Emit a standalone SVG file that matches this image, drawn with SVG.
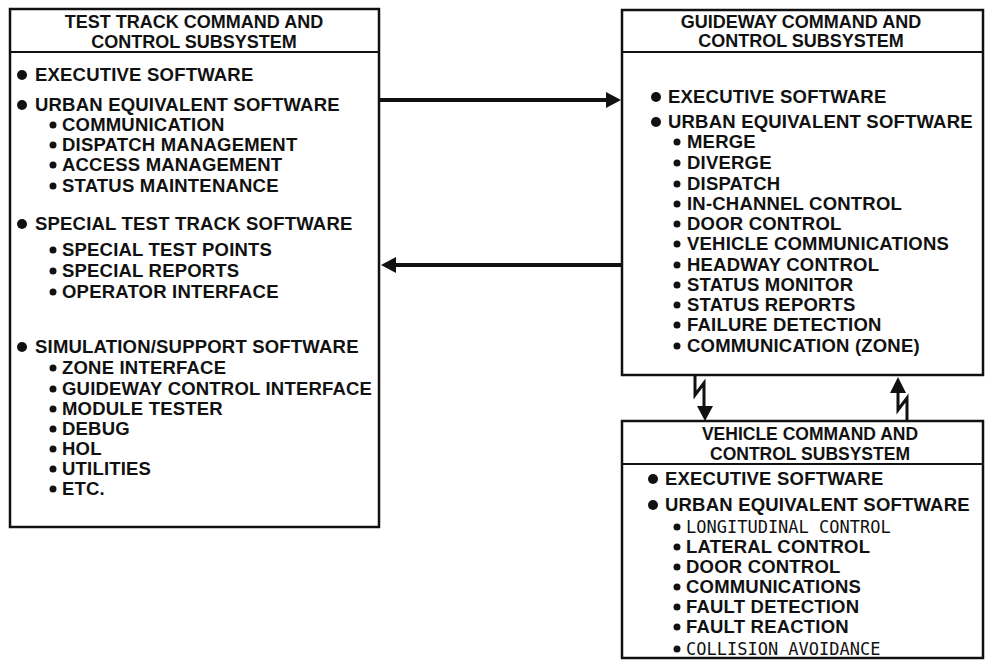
<svg xmlns="http://www.w3.org/2000/svg" width="991" height="660" viewBox="0 0 991 660">
<defs>
<style>
.box{fill:none;stroke:#111;stroke-width:2.5}
.div{stroke:#111;stroke-width:2}
.h{font-family:"Liberation Sans",Arial,sans-serif;font-weight:bold;font-size:18px;fill:#111;text-anchor:middle}
.hv{font-size:17.5px}
.t{font-family:"Liberation Sans",Arial,sans-serif;font-weight:bold;font-size:18.5px;letter-spacing:0.2px;fill:#111}
.m{font-family:"DejaVu Sans Mono","Liberation Mono",monospace;font-size:17px;fill:#111}
.b1{fill:#111}
.b2{fill:#111}
.ln{fill:none;stroke:#111;stroke-width:4}
.zz{fill:none;stroke:#111;stroke-width:3;stroke-linejoin:miter}
.ah{fill:#111}
</style>
</defs>
<rect width="991" height="660" fill="#fff"/>

<g id="test-track">
<rect class="box" x="10" y="9" width="369" height="518"/>
<line class="div" x1="10" y1="52" x2="379" y2="52"/>
<text class="h" x="194" y="28">TEST TRACK COMMAND AND</text>
<text class="h" x="194" y="48">CONTROL SUBSYSTEM</text>
<circle class="b1" cx="22" cy="75" r="5"/><text class="t" x="35" y="81">EXECUTIVE SOFTWARE</text>
<circle class="b1" cx="22" cy="105" r="5"/><text class="t" x="35" y="111">URBAN EQUIVALENT SOFTWARE</text>
<circle class="b2" cx="53" cy="125" r="3.5"/><text class="t" x="62" y="131">COMMUNICATION</text>
<circle class="b2" cx="53" cy="145" r="3.5"/><text class="t" x="62" y="151">DISPATCH MANAGEMENT</text>
<circle class="b2" cx="53" cy="165" r="3.5"/><text class="t" x="62" y="171">ACCESS MANAGEMENT</text>
<circle class="b2" cx="53" cy="186" r="3.5"/><text class="t" x="62" y="192">STATUS MAINTENANCE</text>
<circle class="b1" cx="22" cy="224" r="5"/><text class="t" x="35" y="230">SPECIAL TEST TRACK SOFTWARE</text>
<circle class="b2" cx="53" cy="250" r="3.5"/><text class="t" x="62" y="256">SPECIAL TEST POINTS</text>
<circle class="b2" cx="53" cy="271" r="3.5"/><text class="t" x="62" y="277">SPECIAL REPORTS</text>
<circle class="b2" cx="53" cy="292" r="3.5"/><text class="t" x="62" y="298">OPERATOR INTERFACE</text>
<circle class="b1" cx="22" cy="347" r="5"/><text class="t" x="35" y="353">SIMULATION/SUPPORT SOFTWARE</text>
<circle class="b2" cx="53" cy="368" r="3.5"/><text class="t" x="62" y="374">ZONE INTERFACE</text>
<circle class="b2" cx="53" cy="389" r="3.5"/><text class="t" x="62" y="395">GUIDEWAY CONTROL INTERFACE</text>
<circle class="b2" cx="53" cy="409" r="3.5"/><text class="t" x="62" y="415">MODULE TESTER</text>
<circle class="b2" cx="53" cy="429" r="3.5"/><text class="t" x="62" y="435">DEBUG</text>
<circle class="b2" cx="53" cy="449" r="3.5"/><text class="t" x="62" y="455">HOL</text>
<circle class="b2" cx="53" cy="469" r="3.5"/><text class="t" x="62" y="475">UTILITIES</text>
<circle class="b2" cx="53" cy="489" r="3.5"/><text class="t" x="62" y="495">ETC.</text>
</g>

<g id="guideway">
<rect class="box" x="622" y="10" width="361" height="365"/>
<line class="div" x1="622" y1="52" x2="983" y2="52"/>
<text class="h" x="801" y="28">GUIDEWAY COMMAND AND</text>
<text class="h" x="801" y="47">CONTROL SUBSYSTEM</text>
<circle class="b1" cx="656" cy="97" r="5"/><text class="t" x="668" y="103">EXECUTIVE SOFTWARE</text>
<circle class="b1" cx="656" cy="122" r="5"/><text class="t" x="668" y="128">URBAN EQUIVALENT SOFTWARE</text>
<circle class="b2" cx="677" cy="142" r="3.5"/><text class="t" x="687" y="148">MERGE</text>
<circle class="b2" cx="677" cy="163" r="3.5"/><text class="t" x="687" y="169">DIVERGE</text>
<circle class="b2" cx="677" cy="184" r="3.5"/><text class="t" x="687" y="190">DISPATCH</text>
<circle class="b2" cx="677" cy="204" r="3.5"/><text class="t" x="687" y="210">IN-CHANNEL CONTROL</text>
<circle class="b2" cx="677" cy="224" r="3.5"/><text class="t" x="687" y="230">DOOR CONTROL</text>
<circle class="b2" cx="677" cy="244" r="3.5"/><text class="t" x="687" y="250">VEHICLE COMMUNICATIONS</text>
<circle class="b2" cx="677" cy="265" r="3.5"/><text class="t" x="687" y="271">HEADWAY CONTROL</text>
<circle class="b2" cx="677" cy="285" r="3.5"/><text class="t" x="687" y="291">STATUS MONITOR</text>
<circle class="b2" cx="677" cy="305" r="3.5"/><text class="t" x="687" y="311">STATUS REPORTS</text>
<circle class="b2" cx="677" cy="325" r="3.5"/><text class="t" x="687" y="331">FAILURE DETECTION</text>
<circle class="b2" cx="677" cy="346" r="3.5"/><text class="t" x="687" y="352">COMMUNICATION (ZONE)</text>
</g>

<g id="vehicle">
<rect class="box" x="622" y="421" width="361" height="237"/>
<line class="div" x1="622" y1="464" x2="983" y2="464"/>
<text class="h hv" x="810" y="440">VEHICLE COMMAND AND</text>
<text class="h hv" x="810" y="460">CONTROL SUBSYSTEM</text>
<circle class="b1" cx="653" cy="479" r="5"/><text class="t" x="665" y="485">EXECUTIVE SOFTWARE</text>
<circle class="b1" cx="653" cy="505" r="5"/><text class="t" x="665" y="511">URBAN EQUIVALENT SOFTWARE</text>
<circle class="b2" cx="677" cy="527" r="3.5"/><text class="m" x="686" y="533">LONGITUDINAL CONTROL</text>
<circle class="b2" cx="677" cy="547" r="3.5"/><text class="t" x="686" y="553">LATERAL CONTROL</text>
<circle class="b2" cx="677" cy="567" r="3.5"/><text class="t" x="686" y="573">DOOR CONTROL</text>
<circle class="b2" cx="677" cy="587" r="3.5"/><text class="t" x="686" y="593">COMMUNICATIONS</text>
<circle class="b2" cx="677" cy="607" r="3.5"/><text class="t" x="686" y="613">FAULT DETECTION</text>
<circle class="b2" cx="677" cy="627" r="3.5"/><text class="t" x="686" y="633">FAULT REACTION</text>
<circle class="b2" cx="677" cy="649" r="3.5"/><text class="m" x="686" y="655">COLLISION AVOIDANCE</text>
</g>

<g id="connectors">
<line class="ln" x1="380" y1="100" x2="608" y2="100"/>
<polygon class="ah" points="621,100 606,92 606,108"/>
<line class="ln" x1="621" y1="265" x2="394" y2="265"/>
<polygon class="ah" points="381,265 396,257 396,273"/>
<path class="zz" d="M695,376 L695,395 L704,383 L704,407"/>
<polygon class="ah" points="705,421 697,406 713,406"/>
<path class="zz" d="M907,420 L907,398 L898,410 L898,392"/>
<polygon class="ah" points="898,377 890,393 906,393"/>
</g>
</svg>
